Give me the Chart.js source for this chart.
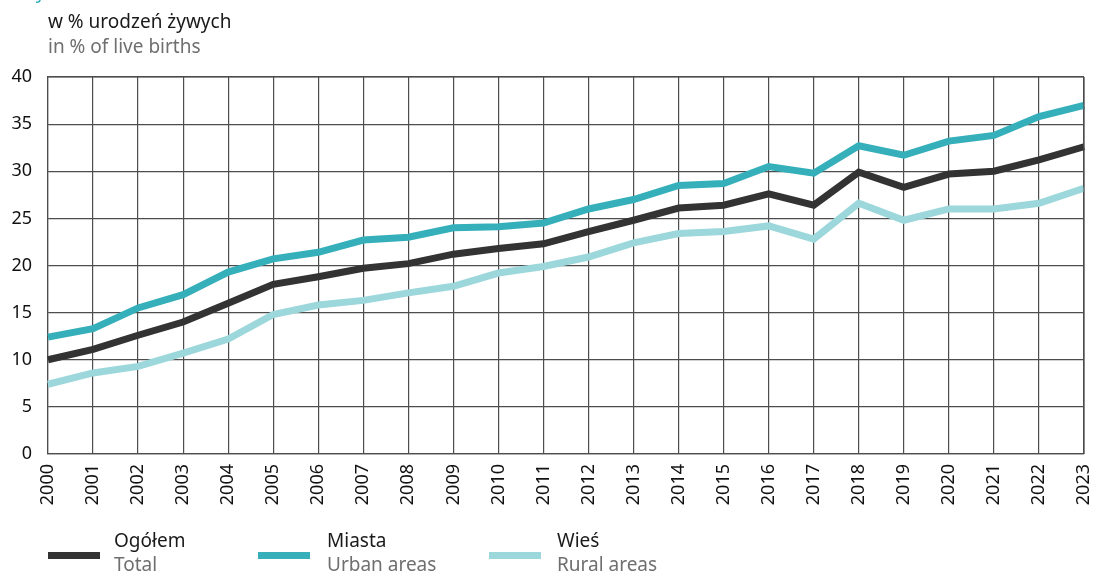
<!DOCTYPE html>
<html>
<head>
<meta charset="utf-8">
<script src="https://cdn.jsdelivr.net/npm/chart.js@4/dist/chart.umd.min.js"></script>
<style>
  html, body { margin:0; padding:0; background:#fff; }
  body { width:1095px; height:574px; position:relative; overflow:hidden; font-family:"Noto Sans", sans-serif; }
  #wrap { position:absolute; left:0; top:0; width:1095px; height:574px; }
  .t { position:absolute; white-space:nowrap; font-size:19px; line-height:23px; }
  .pl { color:#1a1a1a; }
  .en { color:#6f6f6f; }
  .sw { position:absolute; height:7px; width:52px; }
  #frag { position:absolute; left:0; top:0; width:200px; height:6px; overflow:hidden; }
  #frag span { position:absolute; left:18px; top:-20px; font-size:19px; line-height:23px; color:#35afba; white-space:nowrap; }
</style>
</head>
<body>
<div id="wrap"><canvas id="c" width="1095" height="574"></canvas></div>
<div id="frag"><span>Wykres</span></div>
<div class="t pl" style="left:48px; top:10px;">w % urodzeń żywych</div>
<div class="t en" style="left:48px; top:35px;">in % of live births</div>

<div class="sw" style="left:48px; top:552px; background:#333333;"></div>
<div class="t pl" style="left:114px; top:529px;">Ogółem</div>
<div class="t en" style="left:114px; top:553px;">Total</div>

<div class="sw" style="left:258px; top:552px; background:#35afba;"></div>
<div class="t pl" style="left:327px; top:529px;">Miasta</div>
<div class="t en" style="left:327px; top:553px;">Urban areas</div>

<div class="sw" style="left:489px; top:552px; background:#9cd7db;"></div>
<div class="t pl" style="left:557px; top:529px;">Wieś</div>
<div class="t en" style="left:557px; top:553px;">Rural areas</div>

<script>
const years = ['2000','2001','2002','2003','2004','2005','2006','2007','2008','2009','2010','2011','2012','2013','2014','2015','2016','2017','2018','2019','2020','2021','2022','2023'];
const total = [10.0,11.1,12.6,14.0,16.0,18.0,18.8,19.7,20.2,21.2,21.8,22.3,23.6,24.8,26.1,26.4,27.6,26.4,29.9,28.3,29.7,30.0,31.2,32.6];
const urban = [12.4,13.3,15.5,16.9,19.3,20.7,21.4,22.7,23.0,24.0,24.1,24.5,26.0,27.0,28.5,28.7,30.5,29.8,32.7,31.7,33.2,33.8,35.8,37.0];
const rural = [7.4,8.6,9.3,10.7,12.2,14.8,15.8,16.3,17.1,17.8,19.2,19.9,20.9,22.4,23.4,23.6,24.2,22.8,26.6,24.8,26.0,26.0,26.6,28.2];
const yTicks = [0,5,10,15,20,25,30,35,40];

const gridColor = '#4d4d4d';
const ds = (label, data, color) => ({
  label, data, borderColor: color, backgroundColor: color,
  borderWidth: 7, pointRadius: 0, tension: 0, fill: false,
  borderJoinStyle: 'miter', borderCapStyle: 'butt'
});

new Chart(document.getElementById('c'), {
  type: 'line',
  data: {
    labels: years,
    datasets: [
      ds('Wieś', rural, '#9cd7db'),
      ds('Miasta', urban, '#35afba'),
      ds('Ogółem', total, '#333333')
    ]
  },
  options: {
    responsive: false,
    animation: false,
    layout: { padding: { left: 0, top: 77, right: 11, bottom: 60 } },
    plugins: { legend: { display: false }, tooltip: { enabled: false }, title: { display: false } },
    scales: {
      x: {
        offset: false,
        afterFit: s => { s.height = 60; s.paddingLeft = 0; s.paddingRight = 0; },
        grid: { color: gridColor, lineWidth: 1.2, drawTicks: false, drawOnChartArea: true },
        border: { color: gridColor, width: 1.2 },
        ticks: {
          color: '#111', font: { family: 'Noto Sans', size: 18 },
          minRotation: 90, maxRotation: 90, padding: 10, autoSkip: false
        }
      },
      y: {
        min: 0, max: 40,
        afterFit: s => { s.width = 48; s.paddingTop = 0; s.paddingBottom = 0; },
        afterBuildTicks: s => { s.ticks = yTicks.map(v => ({ value: v })); },
        grid: { color: gridColor, lineWidth: 1.2, drawTicks: false },
        border: { color: gridColor, width: 1.2 },
        ticks: { color: '#111', font: { family: 'Noto Sans', size: 18 }, padding: 16 }
      }
    }
  },
  plugins: [{
    id: 'frame',
    afterDraw(chart) {
      const { ctx, chartArea: a } = chart;
      ctx.save();
      ctx.strokeStyle = gridColor; ctx.lineWidth = 1.2;
      ctx.beginPath();
      ctx.moveTo(a.left, a.top); ctx.lineTo(a.right, a.top);
      ctx.moveTo(a.right, a.top); ctx.lineTo(a.right, a.bottom);
      ctx.stroke();
      ctx.restore();
    }
  }]
});
</script>
</body>
</html>
